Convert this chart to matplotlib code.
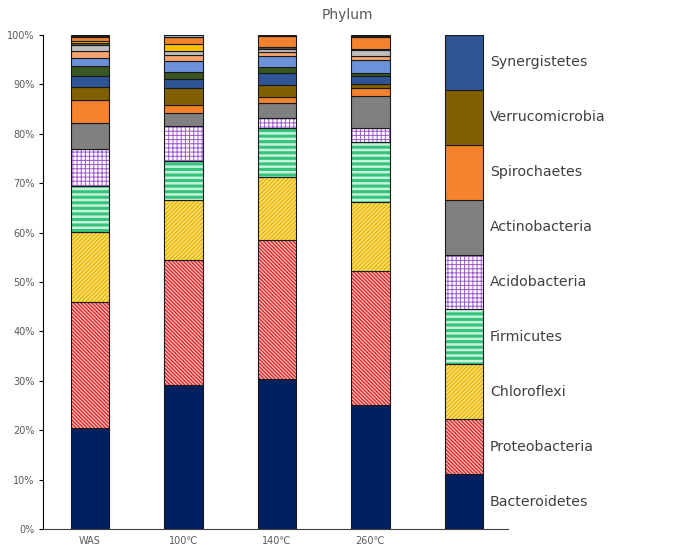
import matplotlib as mpl
import matplotlib.pyplot as plt
import numpy as np

plt.rcParams['font.family'] = ['DejaVu Sans']

samples = ["WAS", "100℃", "140℃", "260℃"]
phyla = ["Bacteroidetes", "Proteobacteria", "Chloroflexi", "Firmicutes",
         "Acidobacteria", "Actinobacteria", "Spirochaetes",
         "Verrucomicrobia", "Synergistetes"]

# relative abundance (%) per sample, bottom to top
bacteroidetes = [20.4, 29.2, 30.4, 25.1]
proteobacteria = [25.5, 25.2, 28.1, 27.1]
chloroflexi = [14.2, 12.1, 12.7, 13.9]
firmicutes = [9.3, 7.9, 10.0, 12.3]
acidobacteria = [7.5, 7.1, 2.0, 2.7]
actinobacteria = [5.2, 2.8, 3.1, 6.5]
spirochaetes = [4.8, 1.5, 1.1, 1.6]
verrucomicrobia = [2.6, 3.5, 2.4, 0.8]
synergistetes = [2.3, 1.8, 2.6, 1.8]

# minor phyla (not labelled)
minor_1 = [2.0, 1.5, 1.2, 0.6]
minor_2 = [1.6, 2.2, 2.1, 2.5]
minor_3 = [1.3, 1.2, 0.8, 0.8]
minor_4 = [1.2, 0.8, 0.6, 1.2]
minor_5 = [0.4, 0.0, 0.5, 0.3]
minor_6 = [0.5, 1.3, 0.0, 0.0]
minor_7 = [0.7, 1.4, 2.1, 2.4]
minor_8 = [0.3, 0.1, 0.1, 0.1]
minor_9 = [0.2, 0.4, 0.2, 0.3]

# the legend column: nine equal blocks
legend_block = [11.11, 11.11, 11.11, 11.11, 11.11, 11.11, 11.11, 11.11, 11.12]

main_series = [bacteroidetes, proteobacteria, chloroflexi, firmicutes,
               acidobacteria, actinobacteria, spirochaetes,
               verrucomicrobia, synergistetes]
minor_series = [minor_1, minor_2, minor_3, minor_4, minor_5,
                minor_6, minor_7, minor_8, minor_9]

# (face, hatch, hatch colour, hatch linewidth)
main_styles = [
    ("#002060", None, None, 1.0),
    ("#F9C4C4", "\\" * 9, "#E02828", 1.0),
    ("#FFE27A", "/" * 8, "#E6B400", 1.0),
    ("#C6F2DA", "---", "#36C47C", 2.2),
    ("#FCF9FF", "++++", "#9A5CCB", 0.7),
    ("#808080", None, None, 1.0),
    ("#F5822F", None, None, 1.0),
    ("#806000", None, None, 1.0),
    ("#2F5597", None, None, 1.0),
]
minor_styles = ["#385723", "#6C92DA", "#F4A46C", "#BFBFBF", "#595959",
                "#FFC000", "#F5822F", "#A68CCB", "#9DC3E6"]

EDGE = "#1A1A1A"
WIDTH = 0.41


def draw_segment(ax, x, h, bottom, face, hatch=None, hcolor=None, hlw=1.0):
    if hatch:
        mpl.rcParams['hatch.linewidth'] = hlw
        ax.bar(x, h, WIDTH, bottom=bottom, color=face, hatch=hatch,
               edgecolor=hcolor, linewidth=0)
        mpl.rcParams['hatch.linewidth'] = 1.0
        ax.bar(x, h, WIDTH, bottom=bottom, fill=False,
               edgecolor=EDGE, linewidth=0.8)
    else:
        ax.bar(x, h, WIDTH, bottom=bottom, color=face,
               edgecolor=EDGE, linewidth=0.8)


fig = plt.figure(figsize=(6.95, 5.55), dpi=100)
ax = fig.add_axes([43 / 695, 26 / 555, 465 / 695, 494 / 555])

x = np.arange(len(samples))
bottom = np.zeros(len(samples))
for vals, (face, hatch, hc, hlw) in zip(main_series, main_styles):
    draw_segment(ax, x, vals, bottom, face, hatch, hc, hlw)
    bottom += np.array(vals)
for vals, face in zip(minor_series, minor_styles):
    draw_segment(ax, x, vals, bottom, face)
    bottom += np.array(vals)

# legend column drawn as a fifth bar
lx = len(samples)
lb = 0.0
for val, name, (face, hatch, hc, hlw) in zip(legend_block, phyla, main_styles):
    draw_segment(ax, lx, val, lb, face, hatch, hc, hlw)
    ax.text(lx + WIDTH / 2 + 0.07, lb + val / 2, name, fontsize=10.2,
            color="#404040", va="center", ha="left", clip_on=False)
    lb += val

ax.set_xlim(-0.5, 4.47)
ax.set_ylim(0, 100)
ax.set_yticks(np.arange(0, 101, 10))
ax.set_yticklabels([f"{v}%" for v in range(0, 101, 10)],
                   fontsize=7, color="#595959")
ax.set_xticks(x)
ax.set_xticklabels(samples, fontsize=7, color="#595959")
ax.tick_params(axis="x", length=0, pad=5)
ax.tick_params(axis="y", direction="out", length=3, width=0.8, pad=3)

for s in ["top", "right"]:
    ax.spines[s].set_visible(False)
ax.spines["left"].set_color("black")
ax.spines["bottom"].set_color("#404040")

fig.text(0.5, 1 - 15 / 555, "Phylum", ha="center", va="center",
         fontsize=10, color="#595959")

fig.savefig("out.png", dpi=100)
